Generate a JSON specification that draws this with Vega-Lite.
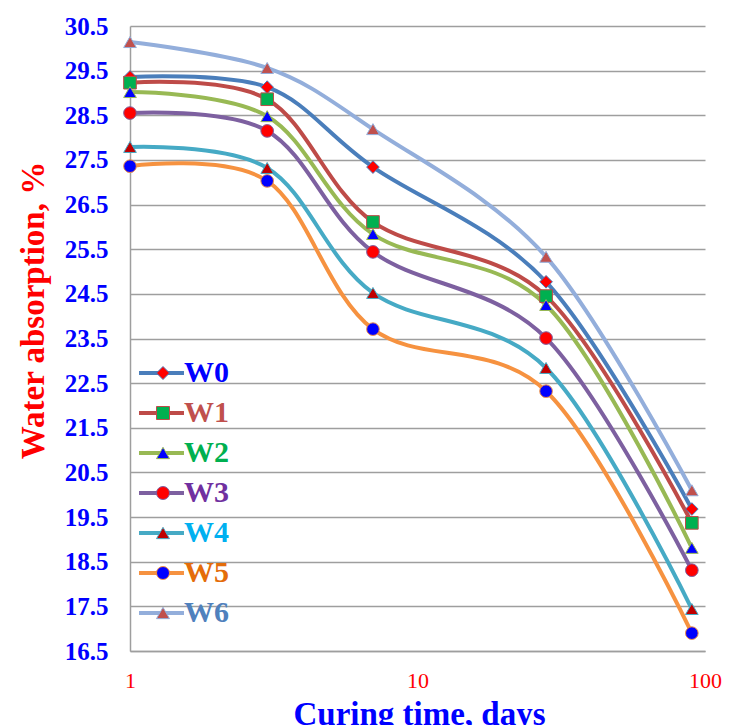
{
  "$schema": "https://vega.github.io/schema/vega-lite/v6.json",
  "width": 575,
  "height": 625,
  "autosize": {"type": "none"},
  "padding": {"left": 130, "top": 26, "right": 24, "bottom": 74},
  "background": "white",
  "data": {
    "values": [
      {"series": "W0", "days": 1, "wa": 29.36},
      {"series": "W0", "days": 3, "wa": 29.13},
      {"series": "W0", "days": 7, "wa": 27.34},
      {"series": "W0", "days": 28, "wa": 24.77},
      {"series": "W0", "days": 90, "wa": 19.68},
      {"series": "W1", "days": 1, "wa": 29.23},
      {"series": "W1", "days": 3, "wa": 28.86},
      {"series": "W1", "days": 7, "wa": 26.11},
      {"series": "W1", "days": 28, "wa": 24.45},
      {"series": "W1", "days": 90, "wa": 19.37},
      {"series": "W2", "days": 1, "wa": 29.02},
      {"series": "W2", "days": 3, "wa": 28.48},
      {"series": "W2", "days": 7, "wa": 25.84},
      {"series": "W2", "days": 28, "wa": 24.25},
      {"series": "W2", "days": 90, "wa": 18.81},
      {"series": "W3", "days": 1, "wa": 28.55},
      {"series": "W3", "days": 3, "wa": 28.15},
      {"series": "W3", "days": 7, "wa": 25.44},
      {"series": "W3", "days": 28, "wa": 23.51},
      {"series": "W3", "days": 90, "wa": 18.31},
      {"series": "W4", "days": 1, "wa": 27.79},
      {"series": "W4", "days": 3, "wa": 27.32},
      {"series": "W4", "days": 7, "wa": 24.52},
      {"series": "W4", "days": 28, "wa": 22.84},
      {"series": "W4", "days": 90, "wa": 17.44},
      {"series": "W5", "days": 1, "wa": 27.36},
      {"series": "W5", "days": 3, "wa": 27.03},
      {"series": "W5", "days": 7, "wa": 23.71},
      {"series": "W5", "days": 28, "wa": 22.32},
      {"series": "W5", "days": 90, "wa": 16.9},
      {"series": "W6", "days": 1, "wa": 30.14},
      {"series": "W6", "days": 3, "wa": 29.56},
      {"series": "W6", "days": 7, "wa": 28.19},
      {"series": "W6", "days": 28, "wa": 25.33},
      {"series": "W6", "days": 90, "wa": 20.1}
    ]
  },
  "encoding": {
    "x": {
      "field": "days",
      "type": "quantitative",
      "scale": {"type": "log", "domain": [1, 100], "nice": false},
      "axis": {
        "values": [1, 10, 100],
        "format": "d",
        "grid": false,
        "ticks": false,
        "tickSize": 0,
        "labelFlush": false,
        "labelOverlap": false,
        "labelFont": "Liberation Serif",
        "labelFontSize": 22,
        "labelColor": "#ff0000",
        "labelPadding": 19,
        "domainColor": "#9e9e9e",
        "domainWidth": 1.5,
        "title": "Curing time, days",
        "titleFont": "Liberation Serif",
        "titleFontSize": 33,
        "titleFontWeight": "bold",
        "titleColor": "#0000ff",
        "titleX": 289,
        "titleY": 73,
        "titleAlign": "center",
        "titleBaseline": "alphabetic"
      }
    },
    "y": {
      "field": "wa",
      "type": "quantitative",
      "scale": {"domain": [16.5, 30.5], "nice": false, "zero": false},
      "axis": {
        "values": [16.5, 17.5, 18.5, 19.5, 20.5, 21.5, 22.5, 23.5, 24.5, 25.5, 26.5, 27.5, 28.5, 29.5, 30.5],
        "format": ".1f",
        "grid": true,
        "gridColor": "#9e9e9e",
        "gridWidth": 1.5,
        "ticks": false,
        "tickSize": 0,
        "labelFlush": false,
        "labelOverlap": false,
        "labelFont": "Liberation Serif",
        "labelFontSize": 25,
        "labelFontWeight": "bold",
        "labelColor": "#0000ff",
        "labelPadding": 22,
        "domainColor": "#9e9e9e",
        "domainWidth": 1.5,
        "title": "Water absorption, %",
        "titleFont": "Liberation Serif",
        "titleFontSize": 33,
        "titleFontWeight": "bold",
        "titleColor": "#ff0000",
        "titleAngle": -90,
        "titleX": -97,
        "titleY": 284,
        "titleAlign": "center",
        "titleBaseline": "middle"
      }
    }
  },
  "layer": [
    {
      "mark": {"type": "line", "interpolate": "cardinal", "strokeWidth": 4},
      "encoding": {
        "color": {
          "field": "series",
          "type": "nominal",
          "scale": {
            "domain": ["W0", "W1", "W2", "W3", "W4", "W5", "W6"],
            "range": ["#4a7ebb", "#be4b48", "#98b954", "#7d60a0", "#46aac5", "#f69240", "#93aedb"]
          },
          "legend": {
            "orient": "none",
            "legendX": 16.5,
            "legendY": 332,
            "title": null,
            "padding": 0,
            "symbolType": "M-3.46,0H3.46",
            "symbolSize": 169,
            "symbolStrokeWidth": 4,
            "labelOpacity": 0,
            "labelFont": "Liberation Serif",
            "labelFontSize": 30,
            "labelFontWeight": "bold",
            "labelOffset": 6,
            "rowPadding": 10
          }
        }
      }
    },
    {
      "mark": {"type": "point", "filled": true, "opacity": 1, "size": 160, "strokeWidth": 1},
      "encoding": {
        "shape": {
          "field": "series",
          "type": "nominal",
          "scale": {"range": ["diamond", "square", "triangle-up", "circle", "triangle-up", "circle", "triangle-up"]},
          "legend": {
            "orient": "none",
            "legendX": 18,
            "legendY": 332,
            "title": null,
            "padding": 0,
            "symbolSize": 169,
            "symbolStrokeWidth": 1,
            "symbolOpacity": 1,
            "labelFont": "Liberation Serif",
            "labelFontSize": 30,
            "labelFontWeight": "bold",
            "labelOffset": 6,
            "rowPadding": 10,
            "labelColor": {"expr": "datum.label === 'W0' ? '#0000ff' : datum.label === 'W1' ? '#c0504d' : datum.label === 'W2' ? '#00b050' : datum.label === 'W3' ? '#7030a0' : datum.label === 'W4' ? '#00b0f0' : datum.label === 'W5' ? '#e46c0a' : '#4f81bd'"}
          }
        },
        "fill": {
          "field": "series",
          "type": "nominal",
          "scale": {"range": ["#ff0000", "#00b050", "#0000ff", "#ff0000", "#c00000", "#0000ff", "#c0504d"]}
        },
        "stroke": {
          "field": "series",
          "type": "nominal",
          "scale": {"range": ["#4a7ebb", "#be4b48", "#98b954", "#7d60a0", "#46aac5", "#f69240", "#93aedb"]}
        }
      }
    }
  ],
  "config": {
    "view": {"stroke": null}
  }
}
